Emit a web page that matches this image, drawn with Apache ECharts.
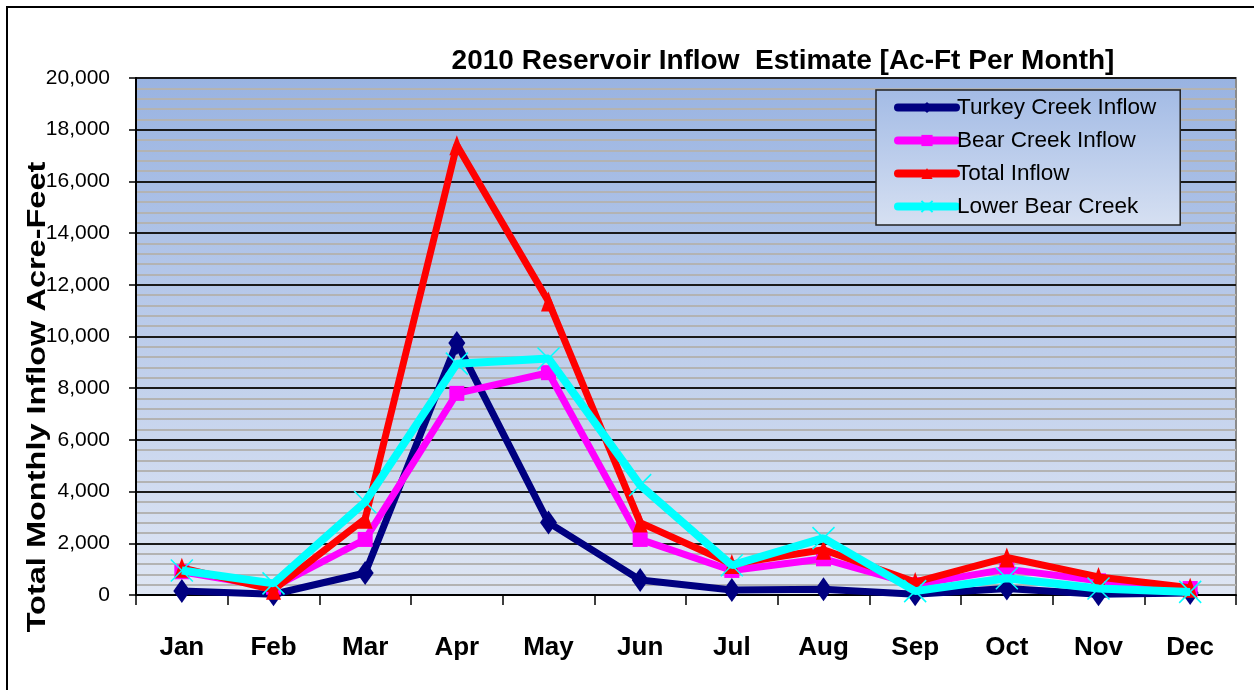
<!DOCTYPE html>
<html>
<head>
<meta charset="utf-8">
<script src="https://cdn.jsdelivr.net/npm/echarts@6/dist/echarts.min.js"></script>
<style>
html,body{margin:0;padding:0;background:#fff;}
#chart{width:1254px;height:690px;}
</style>
</head>
<body>
<div id="chart"></div>
<script>
var months = ['Jan','Feb','Mar','Apr','May','Jun','Jul','Aug','Sep','Oct','Nov','Dec'];
var turkeyCreek = [150, 30, 850, 9750, 2800, 580, 190, 220, 30, 250, 30, 80];
var bearCreek = [900, 300, 2150, 7800, 8600, 2150, 950, 1400, 400, 1000, 550, 250];
var totalInflow = [1050, 200, 2950, 17400, 11350, 2800, 1200, 1750, 500, 1450, 700, 280];
var lowerBearCreek = [950, 450, 3600, 8950, 9150, 4250, 1150, 2200, 150, 650, 250, 120];
var yTicks = [0, 2000, 4000, 6000, 8000, 10000, 12000, 14000, 16000, 18000, 20000];

var FONT = '"Liberation Sans", Arial, sans-serif';
var chart = echarts.init(document.getElementById('chart'));
var option = {
  backgroundColor: '#fff',
  animation: false,
  title: {
    text: '2010 Reservoir Inflow  Estimate [Ac-Ft Per Month]',
    left: 778, top: 42, textAlign: 'center',
    textStyle: {fontFamily: FONT, fontWeight: 'bold', fontSize: 28, color: '#000'}
  },
  legend: {
    orient: 'vertical',
    left: 876, top: 90,
    padding: [6, 24, 7, 18],
    itemGap: 10,
    itemWidth: 58, itemHeight: 14,
    lineStyle: {width: 8, cap: 'round'},
    backgroundColor: new echarts.graphic.LinearGradient(0, 0, 0, 1, [
      {offset: 0, color: '#a3bbe5'}, {offset: 1, color: '#d6e0f2'}
    ]),
    borderColor: '#222', borderWidth: 1.5,
    textStyle: {fontFamily: FONT, fontSize: 22.5, color: '#000', padding: [0,0,0,-4]},
    data: ['Turkey Creek Inflow', 'Bear Creek Inflow', 'Total Inflow', 'Lower Bear Creek']
  },
  grid: {
    left: 136, right: 18, top: 78, bottom: 95,
    show: true,
    backgroundColor: new echarts.graphic.LinearGradient(0, 0, 0, 1, [
      {offset: 0, color: '#99b3e1'}, {offset: 1, color: '#dfe6f4'}
    ]),
    borderColor: '#8a8a8a', borderWidth: 2
  },
  xAxis: {
    type: 'category',
    data: months,
    boundaryGap: true,
    axisLine: {lineStyle: {color: '#000', width: 2}},
    axisTick: {show: true, length: 10, lineStyle: {color: '#000', width: 1.5}},
    axisLabel: {margin: 40, fontFamily: FONT, fontWeight: 'bold', fontSize: 26, color: '#000'},
    splitLine: {show: false}
  },
  yAxis: {
    type: 'value',
    min: 0, max: 20000, interval: 2000,
    axisLine: {show: true, lineStyle: {color: '#000', width: 2}},
    axisTick: {show: true, length: 7, lineStyle: {color: '#000', width: 1.5}},
    minorTick: {show: false, splitNumber: 5},
    axisLabel: {
      margin: 26, fontFamily: FONT, fontSize: 21, color: '#000',
      formatter: function (v) { return yTicks.indexOf(v) >= 0 ? v.toLocaleString('en-US') : ''; }
    },
    splitLine: {show: true, lineStyle: {color: '#1a1a1a', width: 2}},
    minorSplitLine: {show: true, lineStyle: {color: '#b3b3b3', width: 2}}
  },
  graphic: [
    {type: 'rect', shape: {x: 7, y: 7, width: 1300, height: 720}, style: {fill: 'none', stroke: '#000', lineWidth: 2}, silent: true, z: 100},
    {type: 'text', x: 38, y: 397, rotation: Math.PI / 2, scaleY: 0.78,
     style: {text: 'Total Monthly Inflow Acre-Feet', fontFamily: FONT, fontWeight: 'bold', fontSize: 32.5, fill: '#000', align: 'center', verticalAlign: 'middle'}}
  ],
  series: [
    {name: 'Turkey Creek Inflow', type: 'line', data: turkeyCreek, color: '#000080',
     lineStyle: {width: 7, color: '#000080'}, symbol: 'diamond', symbolSize: [17, 24],
     itemStyle: {color: '#000080'}, z: 2},
    {name: 'Bear Creek Inflow', type: 'line', data: bearCreek, color: '#ff00ff',
     lineStyle: {width: 7, color: '#ff00ff'}, symbol: 'rect', symbolSize: 15,
     itemStyle: {color: '#ff00ff'}, z: 3},
    {name: 'Total Inflow', type: 'line', data: totalInflow, color: '#ff0000',
     lineStyle: {width: 7, color: '#ff0000'}, symbol: 'triangle', symbolSize: [15, 20],
     itemStyle: {color: '#ff0000'}, z: 4},
    {name: 'Lower Bear Creek', type: 'line', data: lowerBearCreek, color: '#00ffff',
     lineStyle: {width: 8, color: '#00ffff'}, symbol: 'path://M0,0L10,10M10,0L0,10', symbolSize: 22,
     itemStyle: {color: 'rgba(0,0,0,0)', borderColor: '#00ffff', borderWidth: 1.5}, z: 5}
  ]
};
chart.setOption(option);
</script>
</body>
</html>
